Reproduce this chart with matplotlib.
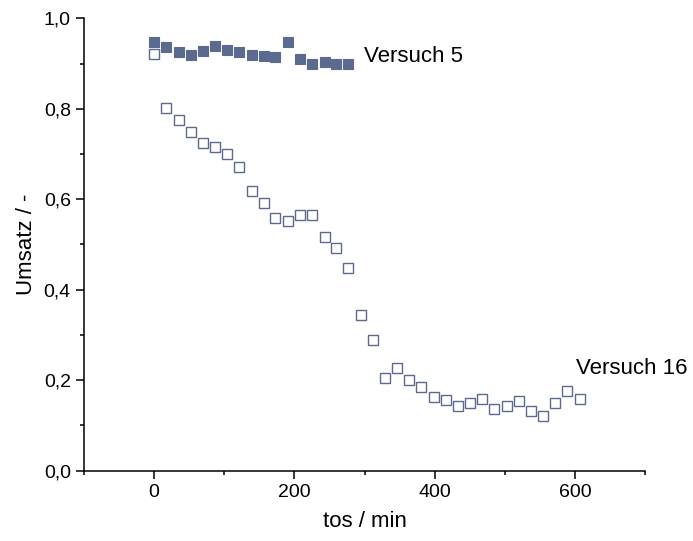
import matplotlib
matplotlib.use("Agg")
import matplotlib.pyplot as plt
from matplotlib.ticker import MultipleLocator, FuncFormatter

plt.rcParams['font.family'] = ['Liberation Sans', 'DejaVu Sans']

# Versuch 5 (filled squares)
tos_v5 = [0, 17, 35, 52, 69, 87, 104, 121, 139, 156, 173, 191, 208, 225, 243, 260, 277]
umsatz_v5 = [0.948, 0.937, 0.925, 0.919, 0.928, 0.939, 0.931, 0.925, 0.919, 0.917,
             0.914, 0.948, 0.910, 0.900, 0.903, 0.898, 0.898]

# Versuch 16 (open squares)
tos_v16 = [0, 17, 35, 52, 69, 87, 104, 121, 139, 156, 173, 191, 208, 225, 243, 260,
           277, 295, 312, 329, 347, 364, 381, 399, 416, 433, 451, 468, 485, 503, 520,
           537, 555, 572, 589, 607]
umsatz_v16 = [0.921, 0.801, 0.775, 0.749, 0.724, 0.716, 0.699, 0.672, 0.618, 0.592,
              0.558, 0.552, 0.565, 0.565, 0.516, 0.492, 0.447, 0.344, 0.289, 0.204,
              0.226, 0.200, 0.186, 0.164, 0.156, 0.144, 0.149, 0.158, 0.136, 0.143,
              0.153, 0.132, 0.122, 0.150, 0.177, 0.158]

col = '#5b6a8e'

fig = plt.figure(figsize=(6.93, 5.41), dpi=100)
ax = fig.add_axes([84 / 693, 70.3 / 541, (645 - 84) / 693, (470.7 - 18.3) / 541])

ax.plot(tos_v16, umsatz_v16, 's', ms=7.4, mfc='white', mec=col, mew=1.0, zorder=2)
ax.plot(tos_v5, umsatz_v5, 's', ms=7.8, mfc=col, mec=col, mew=0.8, zorder=3)

ax.set_xlim(-100, 700)
ax.set_ylim(0, 1.0)

ax.xaxis.set_major_locator(MultipleLocator(200))
ax.xaxis.set_minor_locator(MultipleLocator(100))
ax.yaxis.set_major_locator(MultipleLocator(0.2))
ax.yaxis.set_minor_locator(MultipleLocator(0.1))
ax.yaxis.set_major_formatter(FuncFormatter(lambda v, p: f"{v:.1f}".replace('.', ',')))

for s in ('top', 'right'):
    ax.spines[s].set_visible(False)
for s in ('left', 'bottom'):
    ax.spines[s].set_linewidth(1.1)

ax.tick_params(which='major', direction='out', length=5.5, width=1.1, labelsize=14, pad=4)
ax.tick_params(which='minor', direction='out', length=3, width=1.1)

ax.set_xlabel("tos / min", fontsize=16, labelpad=7)
ax.set_ylabel("Umsatz / -", fontsize=16, labelpad=5)

# curve labels
ax.text(300, 0.915, "Versuch 5", fontsize=16, va='center', ha='left')
ax.text(601, 0.227, "Versuch 16", fontsize=16, va='center', ha='left', clip_on=False)

fig.savefig("out.png", dpi=100)
